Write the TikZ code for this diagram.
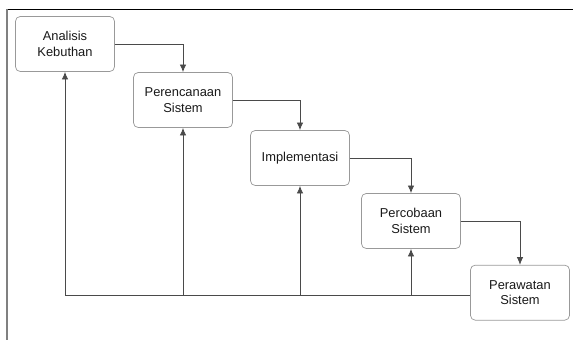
\documentclass[tikz,border=0pt]{standalone}
\usepackage{fontspec}
\setmainfont{Liberation Sans}
\usetikzlibrary{arrows.meta}
\definecolor{boxline}{HTML}{999999}
\definecolor{wire}{HTML}{4A4A4A}
\begin{document}
\begin{tikzpicture}[every node/.style={rectangle, rounded corners=4pt, draw=boxline, line width=0.6pt, minimum width=2.97cm, minimum height=1.65cm, align=center, font=\fontsize{11}{13.5}\selectfont, text=black!90}]
      \useasboundingbox (0,0) rectangle (17.22,10.2);
      \draw[black, line width=0.8pt] (0.21,9.93) -- (17.2,9.93);
      \draw[black!50, line width=0.9pt] (0.21,9.93) -- (0.21,0);
      \node (1) at (1.95,8.88) {Analisis\\Kebuthan};
      \node (2) at (5.49,7.20) {Perencanaan\\Sistem};
      \node (3) at (9.00,5.46) {Implementasi};
      \node (4) at (12.33,3.57) {Percobaan\\Sistem};
      \node (5) at (15.60,1.42) {Perawatan\\Sistem};
      \coordinate (base) at (1.95,1.35);
      \foreach \source/\dest in {1/2, 2/3, 3/4, 4/5}
        \draw[wire, line width=0.7pt, -{Latex[length=6.5pt,width=5.5pt]}] (\source.east) -| (\dest.north);
      \draw[wire, line width=0.7pt] (5.west |- base) -- (base);
      \foreach \dest in {1, 2, 3, 4}
        \draw[wire, line width=0.7pt, -{Latex[length=6.5pt,width=5.5pt]}] (\dest.south |- base) -- (\dest.south);
    \end{tikzpicture}
\end{document}
